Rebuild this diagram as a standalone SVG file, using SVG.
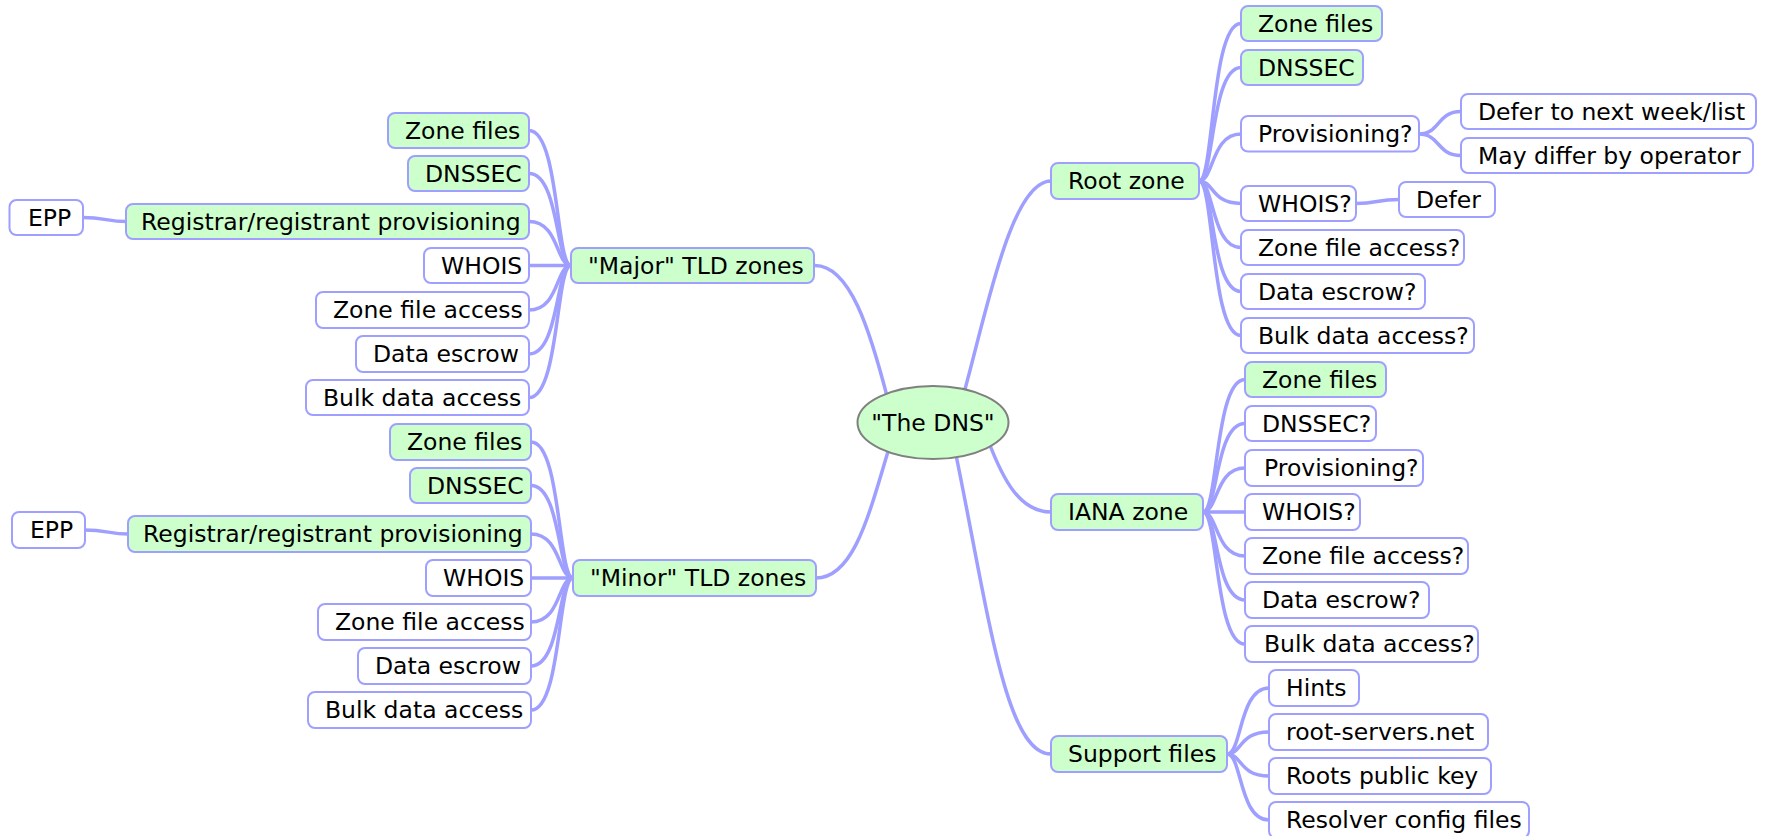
<svg xmlns="http://www.w3.org/2000/svg" width="1767" height="836" viewBox="0 0 1767 836">
<style>
.bg{fill:#ffffff}
.e{fill:none;stroke:#9f9fff;stroke-width:3.5;stroke-linecap:round}
.g rect{fill:#ccffcc;stroke:#9f9fff;stroke-width:2}
.w rect{fill:#ffffff;stroke:#9f9fff;stroke-width:2}
text{font-family:"DejaVu Sans","Noto Sans",sans-serif;font-size:23.5px;fill:#000}
</style>
<rect class="bg" x="0" y="0" width="1767" height="836"/>
<g id="connectors">
<path class="e" d="M 962 400 C 985 320, 1010 181, 1051 181"/>
<path class="e" d="M 988 440 C 1003 480, 1020 512, 1051 512"/>
<path class="e" d="M 955 450 C 988 610, 1005 754, 1051 754"/>
<path class="e" d="M 888 400 C 870 330, 850 265.5, 815 265.5"/>
<path class="e" d="M 890 445 C 870 510, 855 578, 816 578"/>
<path class="e" d="M 571 265.5 C 556 265.5, 559 130.5, 529 130.5"/>
<path class="e" d="M 571 265.5 C 556 265.5, 559 173.5, 529 173.5"/>
<path class="e" d="M 571 265.5 C 556 265.5, 559 221.5, 529 221.5"/>
<path class="e" d="M 571 265.5 L 529 265.5"/>
<path class="e" d="M 571 265.5 C 556 265.5, 559 310, 529 310"/>
<path class="e" d="M 571 265.5 C 556 265.5, 559 354, 529 354"/>
<path class="e" d="M 571 265.5 C 556 265.5, 559 397.5, 529 397.5"/>
<path class="e" d="M 126 221.5 C 108 221.5, 104 217.5, 83 217.5"/>
<path class="e" d="M 573 578 C 558 578, 561 442, 531 442"/>
<path class="e" d="M 573 578 C 558 578, 561 485.5, 531 485.5"/>
<path class="e" d="M 573 578 C 558 578, 561 534, 531 534"/>
<path class="e" d="M 573 578 L 531 578"/>
<path class="e" d="M 573 578 C 558 578, 561 622, 531 622"/>
<path class="e" d="M 573 578 C 558 578, 561 666, 531 666"/>
<path class="e" d="M 573 578 C 558 578, 561 710, 531 710"/>
<path class="e" d="M 128 534 C 110 534, 106 530, 85 530"/>
<path class="e" d="M 1199 181 C 1214 181, 1211 23.5, 1241 23.5"/>
<path class="e" d="M 1199 181 C 1214 181, 1211 67.5, 1241 67.5"/>
<path class="e" d="M 1199 181 C 1214 181, 1211 134, 1241 134"/>
<path class="e" d="M 1199 181 C 1214 181, 1211 203.5, 1241 203.5"/>
<path class="e" d="M 1199 181 C 1214 181, 1211 247.5, 1241 247.5"/>
<path class="e" d="M 1199 181 C 1214 181, 1211 291.5, 1241 291.5"/>
<path class="e" d="M 1199 181 C 1214 181, 1211 335.5, 1241 335.5"/>
<path class="e" d="M 1419 134 C 1440 134, 1437 111.5, 1461 111.5"/>
<path class="e" d="M 1419 134 C 1440 134, 1437 155.5, 1461 155.5"/>
<path class="e" d="M 1356 203.5 C 1378 203.5, 1376 199.5, 1399 199.5"/>
<path class="e" d="M 1203 512 C 1218 512, 1215 379.5, 1245 379.5"/>
<path class="e" d="M 1203 512 C 1218 512, 1215 423.5, 1245 423.5"/>
<path class="e" d="M 1203 512 C 1218 512, 1215 468, 1245 468"/>
<path class="e" d="M 1203 512 L 1245 512"/>
<path class="e" d="M 1203 512 C 1218 512, 1215 556, 1245 556"/>
<path class="e" d="M 1203 512 C 1218 512, 1215 600, 1245 600"/>
<path class="e" d="M 1203 512 C 1218 512, 1215 644, 1245 644"/>
<path class="e" d="M 1227 754 C 1242 754, 1239 688, 1269 688"/>
<path class="e" d="M 1227 754 C 1242 754, 1239 732, 1269 732"/>
<path class="e" d="M 1227 754 C 1242 754, 1239 776, 1269 776"/>
<path class="e" d="M 1227 754 C 1242 754, 1239 820, 1269 820"/>
</g>
<g id="the-dns">
<ellipse cx="933" cy="422.5" rx="75.5" ry="36.5" fill="#ccffcc" stroke="#808080" stroke-width="2"/>
<text x="933" y="431" text-anchor="middle">"The DNS"</text>
</g>
<g id="major-tld" class="g"><rect x="571" y="248" width="243" height="35" rx="7"/><text x="588" y="274">"Major" TLD zones</text></g>
<g id="major-zonefiles" class="g"><rect x="388" y="113" width="141" height="35" rx="7"/><text x="405" y="139">Zone files</text></g>
<g id="major-dnssec" class="g"><rect x="408" y="156" width="121" height="35" rx="7"/><text x="425" y="182">DNSSEC</text></g>
<g id="major-registrar" class="g"><rect x="126" y="204" width="403" height="35" rx="7"/><text x="141" y="230">Registrar/registrant provisioning</text></g>
<g id="major-epp" class="w"><rect x="9.5" y="200" width="73.5" height="35" rx="7"/><text x="28" y="226">EPP</text></g>
<g id="major-whois" class="w"><rect x="424" y="248" width="105" height="35" rx="7"/><text x="441" y="274">WHOIS</text></g>
<g id="major-zfa" class="w"><rect x="316" y="292" width="213" height="36" rx="7"/><text x="333" y="318">Zone file access</text></g>
<g id="major-escrow" class="w"><rect x="356" y="336" width="173" height="36" rx="7"/><text x="373" y="362">Data escrow</text></g>
<g id="major-bulk" class="w"><rect x="306" y="380" width="223" height="35" rx="7"/><text x="323" y="406">Bulk data access</text></g>
<g id="minor-tld" class="g"><rect x="573" y="560" width="243" height="36" rx="7"/><text x="590" y="586">"Minor" TLD zones</text></g>
<g id="minor-zonefiles" class="g"><rect x="390" y="424" width="141" height="36" rx="7"/><text x="407" y="450">Zone files</text></g>
<g id="minor-dnssec" class="g"><rect x="410" y="468" width="121" height="35" rx="7"/><text x="427" y="494">DNSSEC</text></g>
<g id="minor-registrar" class="g"><rect x="128" y="516" width="403" height="36" rx="7"/><text x="143" y="542">Registrar/registrant provisioning</text></g>
<g id="minor-epp" class="w"><rect x="12" y="512" width="73" height="36" rx="7"/><text x="30" y="538">EPP</text></g>
<g id="minor-whois" class="w"><rect x="426" y="560" width="105" height="36" rx="7"/><text x="443" y="586">WHOIS</text></g>
<g id="minor-zfa" class="w"><rect x="318" y="604" width="213" height="36" rx="7"/><text x="335" y="630">Zone file access</text></g>
<g id="minor-escrow" class="w"><rect x="358" y="648" width="173" height="36" rx="7"/><text x="375" y="674">Data escrow</text></g>
<g id="minor-bulk" class="w"><rect x="308" y="692" width="223" height="36" rx="7"/><text x="325" y="718">Bulk data access</text></g>
<g id="root-zone" class="g"><rect x="1051" y="163" width="148" height="36" rx="7"/><text x="1068" y="189">Root zone</text></g>
<g id="root-zonefiles" class="g"><rect x="1241" y="6" width="141" height="35" rx="7"/><text x="1258" y="32">Zone files</text></g>
<g id="root-dnssec" class="g"><rect x="1241" y="50" width="122" height="35" rx="7"/><text x="1258" y="76">DNSSEC</text></g>
<g id="root-prov" class="w"><rect x="1241" y="116" width="178" height="35.5" rx="7"/><text x="1258" y="142">Provisioning?</text></g>
<g id="root-defer-next" class="w"><rect x="1461" y="94" width="295" height="35" rx="7"/><text x="1478" y="120">Defer to next week/list</text></g>
<g id="root-may-differ" class="w"><rect x="1461" y="138" width="292" height="35" rx="7"/><text x="1478" y="164">May differ by operator</text></g>
<g id="root-whois" class="w"><rect x="1241" y="186" width="115" height="35" rx="7"/><text x="1258" y="212">WHOIS?</text></g>
<g id="root-defer" class="w"><rect x="1399" y="182" width="96" height="35" rx="7"/><text x="1416" y="208">Defer</text></g>
<g id="root-zfa" class="w"><rect x="1241" y="230" width="223" height="35" rx="7"/><text x="1258" y="256">Zone file access?</text></g>
<g id="root-escrow" class="w"><rect x="1241" y="274" width="184" height="35" rx="7"/><text x="1258" y="300">Data escrow?</text></g>
<g id="root-bulk" class="w"><rect x="1241" y="318" width="233" height="35" rx="7"/><text x="1258" y="344">Bulk data access?</text></g>
<g id="iana-zone" class="g"><rect x="1051" y="494" width="152" height="36" rx="7"/><text x="1068" y="520">IANA zone</text></g>
<g id="iana-zonefiles" class="g"><rect x="1245" y="362" width="141" height="35" rx="7"/><text x="1262" y="388">Zone files</text></g>
<g id="iana-dnssec" class="w"><rect x="1245" y="406" width="131" height="35" rx="7"/><text x="1262" y="432">DNSSEC?</text></g>
<g id="iana-prov" class="w"><rect x="1245" y="450" width="178" height="36" rx="7"/><text x="1264" y="476">Provisioning?</text></g>
<g id="iana-whois" class="w"><rect x="1245" y="494" width="115" height="36" rx="7"/><text x="1262" y="520">WHOIS?</text></g>
<g id="iana-zfa" class="w"><rect x="1245" y="538" width="223" height="36" rx="7"/><text x="1262" y="564">Zone file access?</text></g>
<g id="iana-escrow" class="w"><rect x="1245" y="582" width="184" height="36" rx="7"/><text x="1262" y="608">Data escrow?</text></g>
<g id="iana-bulk" class="w"><rect x="1245" y="626" width="233" height="36" rx="7"/><text x="1264" y="652">Bulk data access?</text></g>
<g id="support-files" class="g"><rect x="1051" y="736" width="176" height="36" rx="7"/><text x="1068" y="762">Support files</text></g>
<g id="support-hints" class="w"><rect x="1269" y="670" width="90" height="36" rx="7"/><text x="1286" y="696">Hints</text></g>
<g id="support-root-servers" class="w"><rect x="1269" y="714" width="219" height="36" rx="7"/><text x="1286" y="740">root-servers.net</text></g>
<g id="support-roots-key" class="w"><rect x="1269" y="758" width="222" height="36" rx="7"/><text x="1286" y="784">Roots public key</text></g>
<g id="support-resolver" class="w"><rect x="1269" y="802" width="260" height="36" rx="7"/><text x="1286" y="828">Resolver config files</text></g>
</svg>
